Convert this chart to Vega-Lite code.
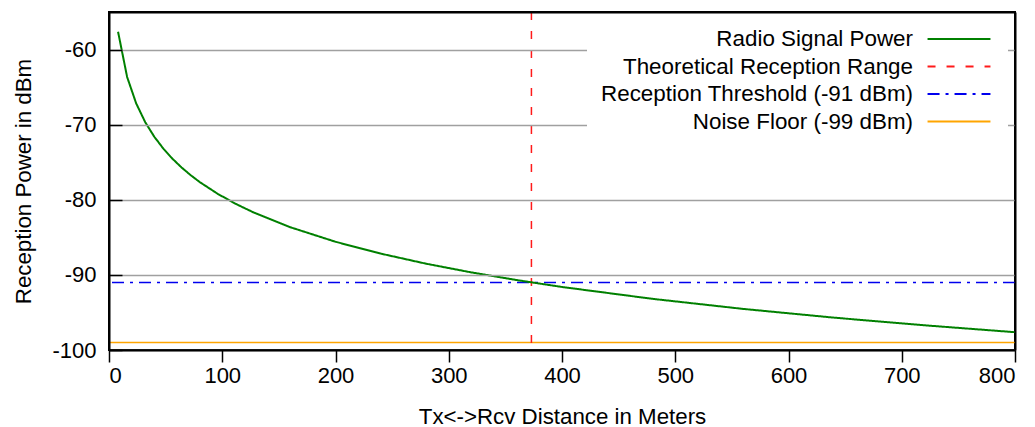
{
  "$schema": "https://vega.github.io/schema/vega-lite/v6.json",
  "autosize": {"type": "none"},
  "width": 906,
  "height": 338,
  "padding": {"left": 109, "top": 12, "right": 20, "bottom": 77},
  "background": "white",
  "datasets": {
    "signal": [
      {"series": "Radio Signal Power", "distance": 8, "power": -57.63},
      {"series": "Radio Signal Power", "distance": 16, "power": -63.65},
      {"series": "Radio Signal Power", "distance": 24, "power": -67.17},
      {"series": "Radio Signal Power", "distance": 32, "power": -69.67},
      {"series": "Radio Signal Power", "distance": 40, "power": -71.61},
      {"series": "Radio Signal Power", "distance": 48, "power": -73.19},
      {"series": "Radio Signal Power", "distance": 56, "power": -74.53},
      {"series": "Radio Signal Power", "distance": 64, "power": -75.69},
      {"series": "Radio Signal Power", "distance": 72, "power": -76.71},
      {"series": "Radio Signal Power", "distance": 80, "power": -77.63},
      {"series": "Radio Signal Power", "distance": 96, "power": -79.21},
      {"series": "Radio Signal Power", "distance": 112, "power": -80.55},
      {"series": "Radio Signal Power", "distance": 128, "power": -81.71},
      {"series": "Radio Signal Power", "distance": 160, "power": -83.65},
      {"series": "Radio Signal Power", "distance": 200, "power": -85.59},
      {"series": "Radio Signal Power", "distance": 240, "power": -87.17},
      {"series": "Radio Signal Power", "distance": 280, "power": -88.51},
      {"series": "Radio Signal Power", "distance": 320, "power": -89.67},
      {"series": "Radio Signal Power", "distance": 360, "power": -90.69},
      {"series": "Radio Signal Power", "distance": 400, "power": -91.61},
      {"series": "Radio Signal Power", "distance": 480, "power": -93.19},
      {"series": "Radio Signal Power", "distance": 560, "power": -94.53},
      {"series": "Radio Signal Power", "distance": 640, "power": -95.69},
      {"series": "Radio Signal Power", "distance": 720, "power": -96.71},
      {"series": "Radio Signal Power", "distance": 800, "power": -97.63}
    ],
    "range": [
      {"series": "Theoretical Reception Range", "distance": 373}
    ],
    "levels": [
      {"series": "Reception Threshold (-91 dBm)", "power": -91},
      {"series": "Noise Floor (-99 dBm)", "power": -99}
    ]
  },
  "encoding": {
    "color": {
      "field": "series",
      "type": "nominal",
      "scale": {
        "domain": ["Radio Signal Power", "Theoretical Reception Range", "Reception Threshold (-91 dBm)", "Noise Floor (-99 dBm)"],
        "range": ["#008000", "#ff1a1a", "#0000ee", "#ffa500"]
      },
      "legend": {"title": null}
    },
    "strokeDash": {
      "field": "series",
      "type": "nominal",
      "scale": {
        "domain": ["Radio Signal Power", "Theoretical Reception Range", "Reception Threshold (-91 dBm)", "Noise Floor (-99 dBm)"],
        "range": [[1, 0], [8, 11], [12, 6, 3, 6], [1, 0]]
      },
      "legend": {"title": null}
    }
  },
  "layer": [
    {
      "data": {"name": "levels"},
      "mark": {"type": "rule", "strokeWidth": 1.5},
      "encoding": {
        "y": {
          "field": "power",
          "type": "quantitative",
          "axis": {
            "orient": "right",
            "title": null,
            "labels": false,
            "ticks": false,
            "grid": false,
            "domain": true,
            "zindex": 3
          }
        }
      }
    },
    {
      "data": {"name": "range"},
      "mark": {"type": "rule", "strokeWidth": 1.5},
      "encoding": {
        "x": {
          "field": "distance",
          "type": "quantitative",
          "axis": {
            "orient": "top",
            "title": null,
            "labels": false,
            "ticks": false,
            "grid": false,
            "domain": true,
            "zindex": 3
          }
        }
      }
    },
    {
      "data": {"name": "signal"},
      "mark": {"type": "line", "strokeWidth": 2, "clip": true},
      "encoding": {
        "x": {
          "field": "distance",
          "type": "quantitative",
          "scale": {"domain": [0, 800], "nice": false, "zero": false},
          "axis": {
            "orient": "bottom",
            "title": "Tx<->Rcv Distance in Meters",
            "values": [0, 100, 200, 300, 400, 500, 600, 700, 800],
            "grid": false,
            "tickSize": 12,
            "labelPadding": 3,
            "titlePadding": 19,
            "zindex": 3
          }
        },
        "y": {
          "field": "power",
          "type": "quantitative",
          "scale": {"domain": [-100, -55], "nice": false, "zero": false},
          "axis": {
            "orient": "left",
            "title": "Reception Power in dBm",
            "values": [-100, -90, -80, -70, -60],
            "labelExpr": "toString(datum.value)",
            "grid": true,
            "tickSize": -13,
            "labelPadding": 26,
            "titlePadding": 16,
            "zindex": 3
          }
        }
      }
    }
  ],
  "resolve": {"axis": {"x": "independent", "y": "independent"}},
  "config": {
    "font": "Liberation Sans",
    "view": {"stroke": "#000000", "strokeWidth": 2},
    "axis": {
      "domainColor": "#000000",
      "domainWidth": 2,
      "tickColor": "#000000",
      "tickWidth": 1.5,
      "gridColor": "#a0a0a0",
      "gridWidth": 1.5,
      "gridOpacity": 1,
      "labelFont": "Liberation Sans",
      "labelFontSize": 22,
      "labelColor": "#000000",
      "titleFont": "Liberation Sans",
      "titleFontSize": 22.3,
      "titleFontWeight": "normal",
      "titleColor": "#000000"
    },
    "legend": {
      "orient": "none",
      "legendX": 478,
      "legendY": 2,
      "zindex": 5,
      "fillColor": "white",
      "padding": 13,
      "labelFont": "Liberation Sans",
      "labelFontSize": 22.4,
      "labelColor": "#000000",
      "labelAlign": "right",
      "labelOffset": -58,
      "labelLimit": 500,
      "symbolOffset": 347,
      "symbolType": "M-2.86,0H2.86",
      "symbolSize": 484,
      "symbolStrokeWidth": 2,
      "rowPadding": 3.5
    }
  }
}
